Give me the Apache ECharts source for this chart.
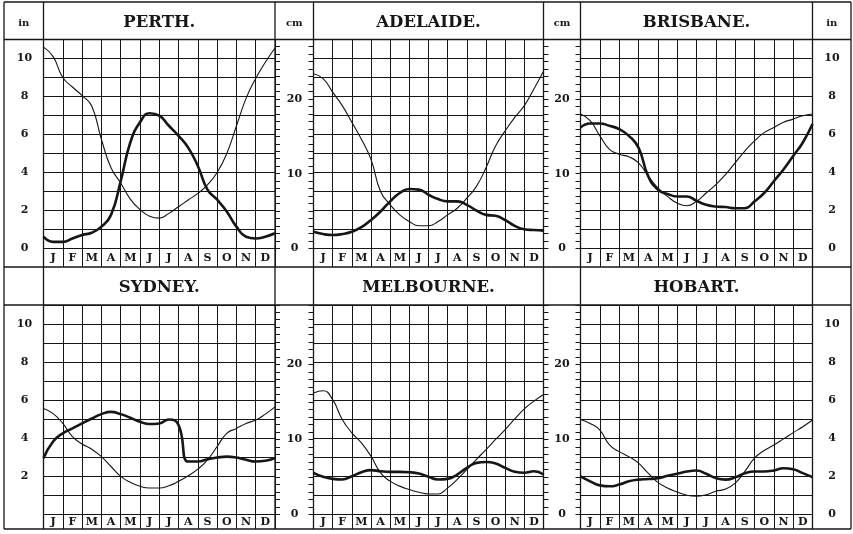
<!DOCTYPE html>
<html>
<head>
<meta charset="utf-8">
<script src="https://cdn.jsdelivr.net/npm/echarts@6/dist/echarts.min.js"></script>
<style>
html,body{margin:0;padding:0;background:#fff;}
#chart{width:853px;height:534px;}
</style>
</head>
<body>
<div id="chart"></div>
<script>
// ---------- DATA (inches; sampled every half month, Jan 1 .. Dec 31) ----------
const months = ['J','F','M','A','M','J','J','A','S','O','N','D'];
const monthPos = [0,0.5,1,1.5,2,2.5,3,3.5,4,4.5,5,5.5,6,6.5,7,7.5,8,8.5,9,9.5,10,10.5,11,11.5,12];
const cityNames = ['PERTH.','ADELAIDE.','BRISBANE.','SYDNEY.','MELBOURNE.','HOBART.'];

const perthThin      = [10.6,10.1,9.0,8.5,8.05,7.5,5.75,4.25,3.45,2.6,2.05,1.7,1.6,1.85,2.2,2.55,2.9,3.35,4.0,5.0,6.45,7.9,8.95,9.8,10.55];
const perthThick     = [0.62,0.35,0.35,0.53,0.71,0.83,1.15,1.77,3.54,5.58,6.64,7.12,6.99,6.46,5.93,5.31,4.34,3.1,2.57,1.95,1.15,0.62,0.53,0.62,0.8];
const adelaideThin   = [9.2,8.94,8.23,7.52,6.64,5.75,4.69,3.0,2.3,1.77,1.42,1.2,1.2,1.42,1.77,2.12,2.65,3.27,4.25,5.4,6.19,6.9,7.52,8.4,9.33];
const adelaideThick  = [0.88,0.76,0.71,0.76,0.88,1.12,1.5,1.95,2.48,2.92,3.13,3.1,2.83,2.6,2.48,2.48,2.3,2.0,1.77,1.72,1.5,1.19,1.01,0.97,0.94];
const brisbaneThin   = [7.08,6.73,5.93,5.22,4.96,4.83,4.51,3.81,3.19,2.74,2.39,2.25,2.48,2.92,3.36,3.89,4.51,5.13,5.66,6.1,6.37,6.64,6.81,6.99,7.08];
const brisbaneThick  = [6.37,6.58,6.58,6.46,6.28,5.93,5.31,3.81,3.1,2.87,2.74,2.74,2.51,2.3,2.21,2.18,2.12,2.12,2.48,2.92,3.54,4.16,4.87,5.58,6.55];
const sydneyThin     = [5.57,5.3,4.78,4.09,3.7,3.43,3.04,2.52,2.0,1.69,1.48,1.39,1.39,1.51,1.74,2.03,2.38,2.87,3.57,4.26,4.52,4.78,4.96,5.27,5.65];
const sydneyThick    = [2.96,3.83,4.26,4.52,4.78,5.04,5.27,5.39,5.27,5.08,4.87,4.75,4.78,4.99,4.7,2.78,2.78,2.9,2.99,3.04,2.99,2.87,2.78,2.82,2.96];
const melbourneThin  = [6.38,6.5,6.03,4.99,4.29,3.76,3.06,2.19,1.75,1.49,1.31,1.17,1.08,1.08,1.4,1.84,2.36,2.89,3.41,3.94,4.46,5.02,5.55,5.95,6.3];
const melbourneThick = [2.19,1.98,1.87,1.84,2.01,2.22,2.33,2.27,2.24,2.24,2.22,2.15,1.98,1.84,1.87,2.1,2.45,2.71,2.76,2.68,2.45,2.24,2.19,2.27,2.1];
const hobartThin     = [4.99,4.78,4.43,3.65,3.3,3.04,2.7,2.17,1.69,1.39,1.18,1.01,0.96,1.04,1.22,1.34,1.65,2.26,2.96,3.36,3.65,3.97,4.3,4.61,4.96];
const hobartThick    = [2.0,1.74,1.53,1.48,1.57,1.74,1.83,1.86,1.91,2.03,2.14,2.26,2.31,2.14,1.91,1.83,1.95,2.17,2.26,2.26,2.31,2.43,2.38,2.17,1.96];

const inchLabels       = [0,2,4,6,8,10];
const inchLabelsNoZero = [2,4,6,8,10];
const cmLabels         = [0,10,20];
const inchMax = 11;
const cmPerInch = 2.54;

// ---------- LAYOUT ----------
const INK = '#161616';
const SERIF = '"DejaVu Serif", "Liberation Serif", serif';
const COLX = [4, 43.5, 275, 313.5, 543.5, 580.5, 812.5, 851];
const PLOTX = [[43.5,275],[313.5,543.5],[580.5,812.5]];
const ROWS = [
  {tTop:2,   pTop:39.5, pBot:248.5, mBot:267},
  {tTop:267, pTop:305,  pBot:514.5, mBot:529}
];
const thinList  = [perthThin, adelaideThin, brisbaneThin, sydneyThin, melbourneThin, hobartThin];
const thickList = [perthThick, adelaideThick, brisbaneThick, sydneyThick, melbourneThick, hobartThick];

const grid = [], xAxis = [], yAxis = [], series = [], graphic = [];
const labelFont = {fontFamily: SERIF, fontWeight: 'bold', fontSize: 11, color: INK};

for (let k = 0; k < 6; k++) {
  const r = Math.floor(k / 3), c = k % 3;
  const [x0, x1] = PLOTX[c];
  const R = ROWS[r];
  // plot grid
  const gP = grid.length;
  grid.push({left: x0, top: R.pTop, width: x1 - x0, height: R.pBot - R.pTop});
  const xP = xAxis.length;
  xAxis.push({gridIndex: gP, type: 'value', min: 0, max: 12, interval: 1,
    axisLine: {show: false}, axisTick: {show: false}, axisLabel: {show: false},
    splitLine: {show: true, lineStyle: {color: INK, width: 1}}});
  const yIn = yAxis.length;
  const inLab = (r === 1 && c === 0) ? inchLabelsNoZero : inchLabels;
  yAxis.push({gridIndex: gP, type: 'value', min: 0, max: inchMax, interval: 1,
    position: c === 2 ? 'right' : 'left',
    axisLine: {show: false}, axisTick: {show: false},
    splitLine: {show: true, lineStyle: {color: INK, width: 1}},
    axisLabel: Object.assign({show: c !== 1, margin: c === 2 ? 19.5 : 19, align: 'center',
      formatter: v => inLab.includes(v) ? String(v) : ''}, labelFont)});
  if (c === 0 || c === 1) {
    yAxis.push({gridIndex: gP, type: 'value', min: 0, max: inchMax * cmPerInch, interval: 1,
      position: 'right', axisLine: {show: false},
      axisTick: {show: true, inside: false, length: 5, lineStyle: {color: INK, width: 1}},
      splitLine: {show: false},
      axisLabel: Object.assign({show: true, margin: c === 0 ? 19.5 : 18.5, align: 'center',
        formatter: v => cmLabels.includes(v) ? String(v) : ''}, labelFont)});
  }
  if (c === 1 || c === 2) {
    yAxis.push({gridIndex: gP, type: 'value', min: 0, max: inchMax * cmPerInch, interval: 1,
      position: 'left', axisLine: {show: false},
      axisTick: {show: true, inside: false, length: 5, lineStyle: {color: INK, width: 1}},
      splitLine: {show: false}, axisLabel: {show: false}});
  }
  // month row grid
  const gM = grid.length;
  const mh = R.mBot - R.pBot;
  grid.push({left: x0, top: R.pBot, width: x1 - x0, height: mh});
  xAxis.push({gridIndex: gM, type: 'category', data: months, boundaryGap: true,
    axisLine: {show: false}, axisTick: {show: false},
    axisLabel: Object.assign({interval: 0, margin: -mh / 2, verticalAlign: 'middle'}, labelFont),
    splitLine: {show: true, interval: 0, lineStyle: {color: INK, width: 1}}});
  yAxis.push({gridIndex: gM, type: 'value', min: 0, max: 1, show: false});

  series.push({type: 'line', xAxisIndex: xP, yAxisIndex: yIn, smooth: 0.5,
    showSymbol: false, symbol: 'none', lineStyle: {color: INK, width: 1.1}, silent: true,
    data: monthPos.map((m, i) => [m, thinList[k][i]])});
  series.push({type: 'line', xAxisIndex: xP, yAxisIndex: yIn, smooth: 0.5,
    showSymbol: false, symbol: 'none', lineStyle: {color: INK, width: 2.6}, silent: true,
    data: monthPos.map((m, i) => [m, thickList[k][i]])});

  // title text
  graphic.push({type: 'text', silent: true, style: {text: cityNames[k], x: (x0 + x1) / 2,
    y: (R.tTop + R.pTop) / 2 + 1.5, align: 'center', verticalAlign: 'middle',
    textAlign: 'center', textVerticalAlign: 'middle',
    font: 'bold 16.5px ' + SERIF, fill: INK}});
}

// unit headers (top row)
const headers = [['in', (COLX[0]+COLX[1])/2], ['cm', (COLX[2]+COLX[3])/2], ['cm', (COLX[4]+COLX[5])/2], ['in', (COLX[6]+COLX[7])/2]];
headers.forEach(([t, x]) => graphic.push({type: 'text', silent: true,
  style: {text: t, x: x, y: 23, align: 'center', verticalAlign: 'middle',
    textAlign: 'center', textVerticalAlign: 'middle', font: 'bold 10px ' + SERIF, fill: INK}}));

// frame lines
const frame = {stroke: INK, lineWidth: 1.3};
COLX.forEach(x => graphic.push({type: 'line', silent: true, shape: {x1: x, y1: 2, x2: x, y2: 529}, style: frame}));
[2, 39.5, 267, 305, 529].forEach(y => graphic.push({type: 'line', silent: true, shape: {x1: 4, y1: y, x2: 851, y2: y}, style: frame}));

const chart = echarts.init(document.getElementById('chart'), null, {renderer: 'canvas'});
chart.setOption({animation: false, backgroundColor: '#fff', grid, xAxis, yAxis, series, graphic});
</script>
</body>
</html>
